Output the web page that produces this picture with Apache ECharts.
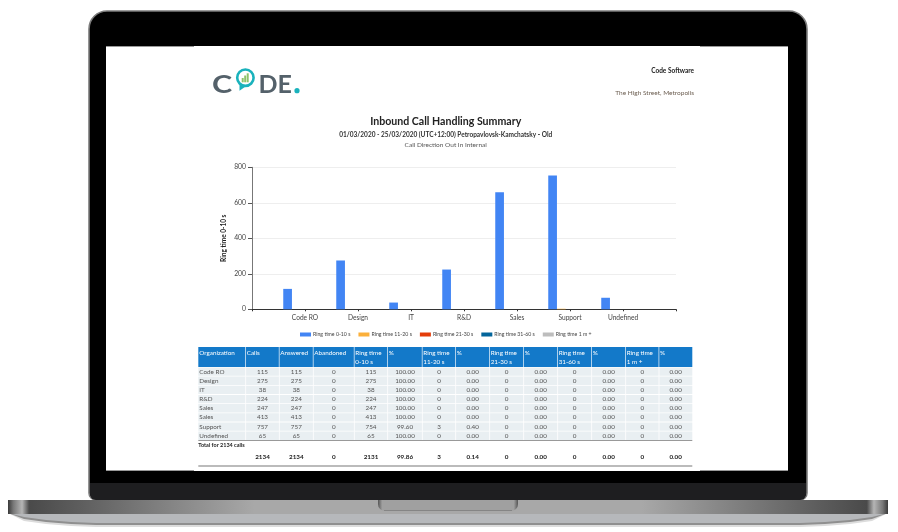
<!DOCTYPE html>
<html>
<head>
<meta charset="utf-8">
<title>Inbound Call Handling Summary</title>
<style>
	html,body{margin:0;padding:0;background:#fff;}
	#summaryChart{width:898px;height:532px;}
</style>
<script src="https://cdn.jsdelivr.net/npm/echarts@6/dist/echarts.min.js"></script>
</head>
<body>
<div id="summaryChart"></div>
<script>
var summary={

	fontName:'Lato',

	//bar chart, blank first and last category leaves the gap at both ends
	categories:['','Code RO','Design','IT','R&D','Sales','Support','Undefined',''],
	ringSeries:[
		{name:'Ring time 0-10 s',color:'#4285f4',data:[0,115,275,38,224,660,754,65,0]},
		{name:'Ring time 11-20 s',color:'#fbb03b',data:[0,0,0,0,0,0,3,0,0]},
		{name:'Ring time 21-30 s',color:'#e43d0a',data:[0,0,0,0,0,0,0,0,0]},
		{name:'Ring time 31-60 s',color:'#03659b',data:[0,0,0,0,0,0,0,0,0]},
		{name:'Ring time 1 m +',color:'#bdbdbd',data:[0,0,0,0,0,0,0,0,0]}
	],

	//table under the chart
	columnX:[198.3,245.7,279.3,313.3,354.3,387.7,422.3,455.7,489.7,523.7,557.7,591.7,625.7,659,692.3],
	headers:[
		['Organization'],['Calls'],['Answered'],['Abandoned'],
		['Ring time','0-10 s'],['%'],
		['Ring time','11-20 s'],['%'],
		['Ring time','21-30 s'],['%'],
		['Ring time','31-60 s'],['%'],
		['Ring time','1 m +'],['%']
	],
	rows:[
		['Code RO','115','115','0','115','100.00','0','0.00','0','0.00','0','0.00','0','0.00'],
		['Design','275','275','0','275','100.00','0','0.00','0','0.00','0','0.00','0','0.00'],
		['IT','38','38','0','38','100.00','0','0.00','0','0.00','0','0.00','0','0.00'],
		['R&D','224','224','0','224','100.00','0','0.00','0','0.00','0','0.00','0','0.00'],
		['Sales','247','247','0','247','100.00','0','0.00','0','0.00','0','0.00','0','0.00'],
		['Sales','413','413','0','413','100.00','0','0.00','0','0.00','0','0.00','0','0.00'],
		['Support','757','757','0','754','99.60','3','0.40','0','0.00','0','0.00','0','0.00'],
		['Undefined','65','65','0','65','100.00','0','0.00','0','0.00','0','0.00','0','0.00']
	],
	totalLabel:'Total for 2134 calls',
	totals:['','2134','2134','0','2131','99.86','3','0.14','0','0.00','0','0.00','0','0.00'],

	text:function(str,x,y,size,color,weight,align) {
		return {
			type:'text',
			x:x,
			y:y,
			z:1,
			silent:true,
			style:{
				text:str,
				fill:color,
				font:(weight||'normal')+' '+size+'px '+summary.fontName,
				textAlign:align||'left',
				textVerticalAlign:'middle'
			}
		};
	},

	rect:function(x,y,w,h,fill,r) {
		return {
			type:'rect',
			z:0,
			silent:true,
			shape:{x:x,y:y,width:w,height:h,r:r||0},
			style:{fill:fill}
		};
	},

	//lower lip of the base, tapers towards both ends
	lip:function(bottom,fill) {
		return {
			type:'polygon',
			z:0,
			silent:true,
			shape:{points:[
				[8,513],[888,513],[872,bottom-6],[850,bottom-3],[825,bottom-1],[800,bottom],
				[96,bottom],[71,bottom-1],[46,bottom-3],[24,bottom-6]
			]},
			style:{fill:fill}
		};
	},

	//macbook around the report
	laptop:function() {
		var baseFill=new echarts.graphic.LinearGradient(0,0,1,0,[
			{offset:0,color:'#3a3a3a'},{offset:0.006,color:'#777'},{offset:0.016,color:'#b5b5b5'},
			{offset:0.024,color:'#4a4a4a'},{offset:0.08,color:'#5d5d5d'},{offset:0.28,color:'#a8a8a8'},
			{offset:0.72,color:'#a8a8a8'},{offset:0.92,color:'#5d5d5d'},{offset:0.976,color:'#4a4a4a'},
			{offset:0.984,color:'#b5b5b5'},{offset:0.994,color:'#777'},{offset:1,color:'#3a3a3a'}
		]);
		var notchFill=new echarts.graphic.LinearGradient(0,0,1,0,[
			{offset:0,color:'#555'},{offset:0.03,color:'#a0a0a0'},{offset:0.97,color:'#a0a0a0'},{offset:1,color:'#555'}
		]);
		return [
			{
				type:'rect',z:0,silent:true,
				shape:{x:89,y:11,width:718,height:489,r:[18,18,7,7]},
				style:{fill:'#000',stroke:'#7c7c7c',lineWidth:1.6}
			},
			summary.rect(90,483,716,17,'#1e1e20',[0,0,6,6]),
			summary.rect(106,46,682,425,'#fff'),
			summary.rect(106,46,88,1,'#999'),
			summary.rect(700,46,88,1,'#999'),
			summary.rect(106,470,88,1,'#999'),
			summary.rect(700,470,88,1,'#999'),
			summary.lip(527,'#dcdcdc'),
			summary.lip(525,'#8f8f8f'),
			summary.lip(523,'#b6b8bb'),
			summary.rect(8,500,880,14,baseFill),
			summary.rect(378,500,140,11,notchFill,[0,0,7,7]),
			summary.rect(384,510,128,1,'#858585')
		];
	},

	//logo and the address block on top of the report
	letterhead:function() {
		var logoGrey='#54616a',teal='#1ab2bc',green='#8cc36a';
		var letterC=summary.text('C',212,85,25,logoGrey,'bold');
		letterC.scaleX=1.22;
		return [
			letterC,
			{
				type:'polygon',z:0,silent:true,
				shape:{points:[[239.5,83],[239.5,90.7],[247,85.5]]},
				style:{fill:teal}
			},
			{
				type:'circle',z:0,silent:true,
				shape:{cx:245.4,cy:77.7,r:8.2},
				style:{fill:'#fff',stroke:teal,lineWidth:2.6}
			},
			summary.rect(241.7,78,2,4.3,green),
			summary.rect(244.2,75.5,2,6.8,green),
			summary.rect(246.7,73.3,2,9,green),
			summary.text('DE',258.5,85,25,logoGrey,'bold'),
			{
				type:'circle',z:0,silent:true,
				shape:{cx:297,cy:90.7,r:2.6},
				style:{fill:teal}
			},
			summary.text('Code Software',694,70.6,6.5,'#222','bold','right'),
			summary.text('The High Street, Metropolis',694,92.8,6.5,'#6b5d50','normal','right'),
			summary.text('Call Direction Out In Internal',445.7,144.9,6.5,'#555','normal','center')
		];
	},

	table:function() {
		var list=[],x=summary.columnX,n=x.length-1,i,j;
		var top=347,headerBottom=367,rowH=9.17;

		list.push(summary.rect(x[0],top,x[n]-x[0],headerBottom-top,'#1379c9'));
		for (i = 1; i < n; i++) {
			list.push(summary.rect(x[i]-0.5,top,0.8,headerBottom-top,'#d5e6f5'));
		}
		for (i = 0; i < n; i++) {
			var head=summary.headers[i];
			for (j = 0; j < head.length; j++) {
				list.push(summary.text(head[j],x[i]+1,top+5.5+j*9.6,6.3,'#fff','normal'));
			}
		}

		for (j = 0; j < summary.rows.length; j++) {
			var rowTop=headerBottom+j*rowH;
			list.push(summary.rect(x[0],rowTop+0.4,x[n]-x[0],rowH-0.8,'#e9eff2'));
			for (i = 1; i < n; i++) {
				list.push(summary.rect(x[i]-0.4,rowTop,0.8,rowH,'#fff'));
			}
			for (i = 0; i < n; i++) {
				if(i==0){
					list.push(summary.text(summary.rows[j][i],x[0]+1,rowTop+rowH/2,6.3,'#555'));
				}else{
					list.push(summary.text(summary.rows[j][i],(x[i]+x[i+1])/2,rowTop+rowH/2,6.3,'#555','normal','center'));
				}
			}
		}

		list.push(summary.rect(x[0],440,x[n]-x[0],1,'#999'));
		list.push(summary.text(summary.totalLabel,x[0],445.4,5.5,'#222','bold'));
		for (i = 1; i < n; i++) {
			list.push(summary.text(summary.totals[i],(x[i]+x[i+1])/2,457.3,6.3,'#222','bold','center'));
		}
		list.push(summary.rect(x[0],465.3,x[n]-x[0],1.4,'#a5a5a5'));
		return list;
	},

	chartOption:function() {
		var seriesList=[];
		for (var i = 0; i < summary.ringSeries.length; i++) {
			seriesList.push({
				name:summary.ringSeries[i].name,
				type:'bar',
				barWidth:8.7,
				barGap:0,
				itemStyle:{color:summary.ringSeries[i].color},
				data:summary.ringSeries[i].data
			});
		}
		return {
			backgroundColor:'#fff',
			animation:false,
			textStyle:{fontFamily:summary.fontName},
			title:{
				text:'Inbound Call Handling Summary',
				subtext:'01/03/2020 - 25/03/2020 (UTC+12:00) Petropavlovsk-Kamchatsky - Old',
				left:445.7,
				top:116.3,
				textAlign:'center',
				padding:0,
				itemGap:4,
				textStyle:{fontSize:10.6,fontWeight:'bold',color:'#222',fontFamily:summary.fontName},
				subtextStyle:{fontSize:6.5,fontWeight:'bold',color:'#333',fontFamily:summary.fontName}
			},
			grid:{left:252,top:167.3,width:424,height:142},
			legend:{
				left:300,
				top:332,
				itemWidth:11,
				itemHeight:4,
				itemGap:8,
				icon:'rect',
				padding:0,
				selectedMode:false,
				textStyle:{fontSize:5.2,color:'#444',padding:[0,0,0,-3]},
				data:summary.ringSeries.map(function(s){return s.name;})
			},
			xAxis:{
				type:'category',
				boundaryGap:false,
				data:summary.categories,
				axisLine:{lineStyle:{color:'#333',width:1}},
				axisTick:{show:true,length:2,lineStyle:{color:'#333'}},
				axisLabel:{interval:0,fontSize:6.6,color:'#444',margin:5},
				splitLine:{show:false}
			},
			yAxis:{
				type:'value',
				min:0,
				max:800,
				interval:200,
				name:'Ring time 0-10 s',
				nameLocation:'middle',
				nameGap:25,
				nameTextStyle:{fontSize:6.5,fontWeight:'bold',color:'#222'},
				axisLine:{show:true,lineStyle:{color:'#777',width:1}},
				axisTick:{show:true,length:4,lineStyle:{color:'#555'}},
				axisLabel:{fontSize:6.8,color:'#444',margin:6},
				splitLine:{show:true,lineStyle:{color:'#eee',width:1}}
			},
			graphic:{elements:summary.laptop().concat(summary.letterhead(),summary.table())},
			series:seriesList
		};
	},

	initChart:function(){
		var myChart=echarts.init(document.getElementById('summaryChart'));
		myChart.setOption(summary.chartOption());
	}
};

summary.initChart();
</script>
</body>
</html>
